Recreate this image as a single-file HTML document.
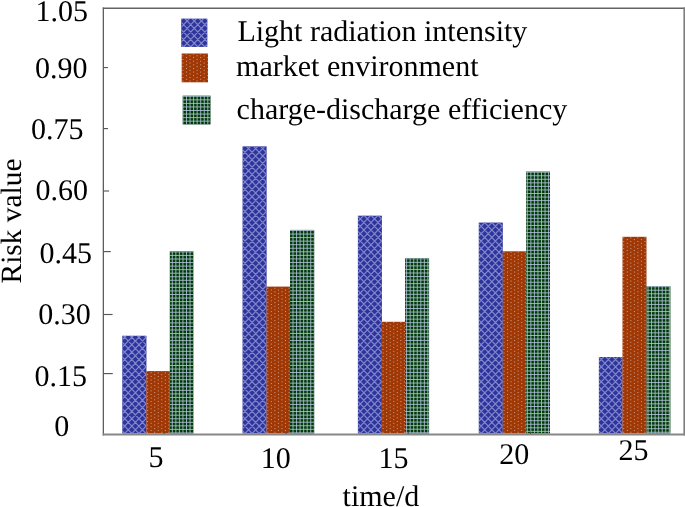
<!DOCTYPE html>
<html><head><meta charset="utf-8"><style>
html,body{margin:0;padding:0;background:#fff;}
svg{display:block;will-change:transform;}
text{font-family:"Liberation Serif", serif;fill:#000;text-rendering:geometricPrecision;}
</style></head><body>
<svg width="685" height="507" viewBox="0 0 685 507">
<defs><clipPath id="c1"><rect x="122.3" y="335.8" width="24.1" height="97.7"/></clipPath><clipPath id="c2"><rect x="146.4" y="371.1" width="23.4" height="62.4"/></clipPath><clipPath id="c3"><rect x="169.8" y="251.3" width="23.6" height="182.2"/></clipPath><clipPath id="c4"><rect x="242.6" y="146.4" width="24" height="287.1"/></clipPath><clipPath id="c5"><rect x="266.6" y="286.6" width="23.4" height="146.9"/></clipPath><clipPath id="c6"><rect x="290" y="229.9" width="24.2" height="203.6"/></clipPath><clipPath id="c7"><rect x="357.9" y="215.7" width="24" height="217.8"/></clipPath><clipPath id="c8"><rect x="381.9" y="321.8" width="23.2" height="111.7"/></clipPath><clipPath id="c9"><rect x="405.1" y="258.2" width="24" height="175.3"/></clipPath><clipPath id="c10"><rect x="478.8" y="222.6" width="24" height="210.9"/></clipPath><clipPath id="c11"><rect x="502.8" y="251.3" width="23.3" height="182.2"/></clipPath><clipPath id="c12"><rect x="526.1" y="171.6" width="23.9" height="261.9"/></clipPath><clipPath id="c13"><rect x="598.9" y="357" width="23.6" height="76.5"/></clipPath><clipPath id="c14"><rect x="622.5" y="236.8" width="24" height="196.7"/></clipPath><clipPath id="c15"><rect x="646.5" y="286.1" width="23.9" height="147.4"/></clipPath><clipPath id="c16"><rect x="181.2" y="18.7" width="26.1" height="28.2"/></clipPath><clipPath id="c17"><rect x="181.7" y="53.5" width="26.3" height="28.8"/></clipPath><clipPath id="c18"><rect x="182.7" y="95.7" width="27.8" height="28.8"/></clipPath></defs>
<g>
<rect x="122.3" y="335.8" width="24.1" height="97.7" fill="#30339b"/>
<path clip-path="url(#c1)" d="M111.94 328.4L4 440.9M-89.74 328.4L18.2 440.9M119.04 328.4L11.1 440.9M-82.64 328.4L25.3 440.9M126.14 328.4L18.2 440.9M-75.54 328.4L32.4 440.9M133.24 328.4L25.3 440.9M-68.44 328.4L39.5 440.9M140.34 328.4L32.4 440.9M-61.34 328.4L46.6 440.9M147.44 328.4L39.5 440.9M-54.24 328.4L53.7 440.9M154.54 328.4L46.6 440.9M-47.14 328.4L60.8 440.9M161.64 328.4L53.7 440.9M-40.04 328.4L67.9 440.9M168.74 328.4L60.8 440.9M-32.94 328.4L75 440.9M175.84 328.4L67.9 440.9M-25.84 328.4L82.1 440.9M182.94 328.4L75 440.9M-18.74 328.4L89.2 440.9M190.04 328.4L82.1 440.9M-11.64 328.4L96.3 440.9M197.14 328.4L89.2 440.9M-4.54 328.4L103.4 440.9M204.24 328.4L96.3 440.9M2.56 328.4L110.5 440.9M211.34 328.4L103.4 440.9M9.66 328.4L117.6 440.9M218.44 328.4L110.5 440.9M16.76 328.4L124.7 440.9M225.54 328.4L117.6 440.9M23.86 328.4L131.8 440.9M232.64 328.4L124.7 440.9M30.96 328.4L138.9 440.9M239.74 328.4L131.8 440.9M38.06 328.4L146 440.9M246.84 328.4L138.9 440.9M45.16 328.4L153.1 440.9M253.94 328.4L146 440.9M52.26 328.4L160.2 440.9M261.04 328.4L153.1 440.9M59.36 328.4L167.3 440.9M268.14 328.4L160.2 440.9M66.46 328.4L174.4 440.9M275.24 328.4L167.3 440.9M73.56 328.4L181.5 440.9M282.34 328.4L174.4 440.9M80.66 328.4L188.6 440.9M289.44 328.4L181.5 440.9M87.76 328.4L195.7 440.9M296.54 328.4L188.6 440.9M94.86 328.4L202.8 440.9M303.64 328.4L195.7 440.9M101.96 328.4L209.9 440.9M310.74 328.4L202.8 440.9M109.06 328.4L217 440.9M317.84 328.4L209.9 440.9M116.16 328.4L224.1 440.9M324.94 328.4L217 440.9M123.26 328.4L231.2 440.9M332.04 328.4L224.1 440.9M130.36 328.4L238.3 440.9M339.14 328.4L231.2 440.9M137.46 328.4L245.4 440.9M346.24 328.4L238.3 440.9M144.56 328.4L252.5 440.9M353.34 328.4L245.4 440.9M151.66 328.4L259.6 440.9M360.44 328.4L252.5 440.9M158.76 328.4L266.7 440.9" stroke="#7e88cc" stroke-width="1.2" fill="none"/>
<rect x="146.4" y="371.1" width="23.4" height="62.4" fill="#a03806"/>
<path clip-path="url(#c2)" d="M147.6 432.7V371.1M151.15 430.9V371.1M154.7 432.7V371.1M158.25 430.9V371.1M161.8 432.7V371.1M165.35 430.9V371.1M168.9 432.7V371.1" stroke="#dcbcae" stroke-width="0.9" stroke-dasharray="0.9 2.7" fill="none"/>
<rect x="169.8" y="251.3" width="23.6" height="182.2" fill="#003a06"/>
<path clip-path="url(#c3)" d="M168.75 251.3V433.5M172.3 251.3V433.5M175.85 251.3V433.5M179.4 251.3V433.5M182.95 251.3V433.5M186.5 251.3V433.5M190.05 251.3V433.5M193.6 251.3V433.5M169.8 251.9H193.4M169.8 255.45H193.4M169.8 259H193.4M169.8 262.55H193.4M169.8 266.1H193.4M169.8 269.65H193.4M169.8 273.2H193.4M169.8 276.75H193.4M169.8 280.3H193.4M169.8 283.85H193.4M169.8 287.4H193.4M169.8 290.95H193.4M169.8 294.5H193.4M169.8 298.05H193.4M169.8 301.6H193.4M169.8 305.15H193.4M169.8 308.7H193.4M169.8 312.25H193.4M169.8 315.8H193.4M169.8 319.35H193.4M169.8 322.9H193.4M169.8 326.45H193.4M169.8 330H193.4M169.8 333.55H193.4M169.8 337.1H193.4M169.8 340.65H193.4M169.8 344.2H193.4M169.8 347.75H193.4M169.8 351.3H193.4M169.8 354.85H193.4M169.8 358.4H193.4M169.8 361.95H193.4M169.8 365.5H193.4M169.8 369.05H193.4M169.8 372.6H193.4M169.8 376.15H193.4M169.8 379.7H193.4M169.8 383.25H193.4M169.8 386.8H193.4M169.8 390.35H193.4M169.8 393.9H193.4M169.8 397.45H193.4M169.8 401H193.4M169.8 404.55H193.4M169.8 408.1H193.4M169.8 411.65H193.4M169.8 415.2H193.4M169.8 418.75H193.4M169.8 422.3H193.4M169.8 425.85H193.4M169.8 429.4H193.4M169.8 432.95H193.4" stroke="#b0c2da" stroke-width="0.85" fill="none"/>
<rect x="242.6" y="146.4" width="24" height="287.1" fill="#30339b"/>
<path clip-path="url(#c4)" d="M236.46 139L-53.2 440.9M-328.66 139L-39 440.9M243.56 139L-46.1 440.9M-321.56 139L-31.9 440.9M250.66 139L-39 440.9M-314.46 139L-24.8 440.9M257.76 139L-31.9 440.9M-307.36 139L-17.7 440.9M264.86 139L-24.8 440.9M-300.26 139L-10.6 440.9M271.96 139L-17.7 440.9M-293.16 139L-3.5 440.9M279.06 139L-10.6 440.9M-286.06 139L3.6 440.9M286.16 139L-3.5 440.9M-278.96 139L10.7 440.9M293.26 139L3.6 440.9M-271.86 139L17.8 440.9M300.36 139L10.7 440.9M-264.76 139L24.9 440.9M307.46 139L17.8 440.9M-257.66 139L32 440.9M314.56 139L24.9 440.9M-250.56 139L39.1 440.9M321.66 139L32 440.9M-243.46 139L46.2 440.9M328.76 139L39.1 440.9M-236.36 139L53.3 440.9M335.86 139L46.2 440.9M-229.26 139L60.4 440.9M342.96 139L53.3 440.9M-222.16 139L67.5 440.9M350.06 139L60.4 440.9M-215.06 139L74.6 440.9M357.16 139L67.5 440.9M-207.96 139L81.7 440.9M364.26 139L74.6 440.9M-200.86 139L88.8 440.9M371.36 139L81.7 440.9M-193.76 139L95.9 440.9M378.46 139L88.8 440.9M-186.66 139L103 440.9M385.56 139L95.9 440.9M-179.56 139L110.1 440.9M392.66 139L103 440.9M-172.46 139L117.2 440.9M399.76 139L110.1 440.9M-165.36 139L124.3 440.9M406.86 139L117.2 440.9M-158.26 139L131.4 440.9M413.96 139L124.3 440.9M-151.16 139L138.5 440.9M421.06 139L131.4 440.9M-144.06 139L145.6 440.9M428.16 139L138.5 440.9M-136.96 139L152.7 440.9M435.26 139L145.6 440.9M-129.86 139L159.8 440.9M442.36 139L152.7 440.9M-122.76 139L166.9 440.9M449.46 139L159.8 440.9M-115.66 139L174 440.9M456.56 139L166.9 440.9M-108.56 139L181.1 440.9M463.66 139L174 440.9M-101.46 139L188.2 440.9M470.76 139L181.1 440.9M-94.36 139L195.3 440.9M477.86 139L188.2 440.9M-87.26 139L202.4 440.9M484.96 139L195.3 440.9M-80.16 139L209.5 440.9M492.06 139L202.4 440.9M-73.06 139L216.6 440.9M499.16 139L209.5 440.9M-65.96 139L223.7 440.9M506.26 139L216.6 440.9M-58.86 139L230.8 440.9M513.36 139L223.7 440.9M-51.76 139L237.9 440.9M520.46 139L230.8 440.9M-44.66 139L245 440.9M527.56 139L237.9 440.9M-37.56 139L252.1 440.9M534.66 139L245 440.9M-30.46 139L259.2 440.9M541.76 139L252.1 440.9M-23.36 139L266.3 440.9M548.86 139L259.2 440.9M-16.26 139L273.4 440.9M555.96 139L266.3 440.9M-9.16 139L280.5 440.9M563.06 139L273.4 440.9M-2.06 139L287.6 440.9M570.16 139L280.5 440.9M5.04 139L294.7 440.9M577.26 139L287.6 440.9M12.14 139L301.8 440.9M584.36 139L294.7 440.9M19.24 139L308.9 440.9M591.46 139L301.8 440.9M26.34 139L316 440.9M598.56 139L308.9 440.9M33.44 139L323.1 440.9M605.66 139L316 440.9M40.54 139L330.2 440.9M612.76 139L323.1 440.9M47.64 139L337.3 440.9M619.86 139L330.2 440.9M54.74 139L344.4 440.9M626.96 139L337.3 440.9M61.84 139L351.5 440.9M634.06 139L344.4 440.9M68.94 139L358.6 440.9M641.16 139L351.5 440.9M76.04 139L365.7 440.9M648.26 139L358.6 440.9M83.14 139L372.8 440.9M655.36 139L365.7 440.9M90.24 139L379.9 440.9M662.46 139L372.8 440.9M97.34 139L387 440.9M669.56 139L379.9 440.9M104.44 139L394.1 440.9M676.66 139L387 440.9M111.54 139L401.2 440.9M683.76 139L394.1 440.9M118.64 139L408.3 440.9M690.86 139L401.2 440.9M125.74 139L415.4 440.9M697.96 139L408.3 440.9M132.84 139L422.5 440.9M705.06 139L415.4 440.9M139.94 139L429.6 440.9M712.16 139L422.5 440.9M147.04 139L436.7 440.9M719.26 139L429.6 440.9M154.14 139L443.8 440.9M726.36 139L436.7 440.9M161.24 139L450.9 440.9M733.46 139L443.8 440.9M168.34 139L458 440.9M740.56 139L450.9 440.9M175.44 139L465.1 440.9M747.66 139L458 440.9M182.54 139L472.2 440.9M754.76 139L465.1 440.9M189.64 139L479.3 440.9M761.86 139L472.2 440.9M196.74 139L486.4 440.9M768.96 139L479.3 440.9M203.84 139L493.5 440.9M776.06 139L486.4 440.9M210.94 139L500.6 440.9M783.16 139L493.5 440.9M218.04 139L507.7 440.9M790.26 139L500.6 440.9M225.14 139L514.8 440.9M797.36 139L507.7 440.9M232.24 139L521.9 440.9M804.46 139L514.8 440.9M239.34 139L529 440.9M811.56 139L521.9 440.9M246.44 139L536.1 440.9M818.66 139L529 440.9M253.54 139L543.2 440.9M825.76 139L536.1 440.9M260.64 139L550.3 440.9M832.86 139L543.2 440.9M267.74 139L557.4 440.9M839.96 139L550.3 440.9M274.84 139L564.5 440.9" stroke="#7e88cc" stroke-width="1.2" fill="none"/>
<rect x="266.6" y="286.6" width="23.4" height="146.9" fill="#a03806"/>
<path clip-path="url(#c5)" d="M267.8 432.7V286.6M271.35 430.9V286.6M274.9 432.7V286.6M278.45 430.9V286.6M282 432.7V286.6M285.55 430.9V286.6M289.1 432.7V286.6" stroke="#dcbcae" stroke-width="0.9" stroke-dasharray="0.9 2.7" fill="none"/>
<rect x="290" y="229.9" width="24.2" height="203.6" fill="#003a06"/>
<path clip-path="url(#c6)" d="M289.45 229.9V433.5M293 229.9V433.5M296.55 229.9V433.5M300.1 229.9V433.5M303.65 229.9V433.5M307.2 229.9V433.5M310.75 229.9V433.5M314.3 229.9V433.5M290 230.5H314.2M290 234.05H314.2M290 237.6H314.2M290 241.15H314.2M290 244.7H314.2M290 248.25H314.2M290 251.8H314.2M290 255.35H314.2M290 258.9H314.2M290 262.45H314.2M290 266H314.2M290 269.55H314.2M290 273.1H314.2M290 276.65H314.2M290 280.2H314.2M290 283.75H314.2M290 287.3H314.2M290 290.85H314.2M290 294.4H314.2M290 297.95H314.2M290 301.5H314.2M290 305.05H314.2M290 308.6H314.2M290 312.15H314.2M290 315.7H314.2M290 319.25H314.2M290 322.8H314.2M290 326.35H314.2M290 329.9H314.2M290 333.45H314.2M290 337H314.2M290 340.55H314.2M290 344.1H314.2M290 347.65H314.2M290 351.2H314.2M290 354.75H314.2M290 358.3H314.2M290 361.85H314.2M290 365.4H314.2M290 368.95H314.2M290 372.5H314.2M290 376.05H314.2M290 379.6H314.2M290 383.15H314.2M290 386.7H314.2M290 390.25H314.2M290 393.8H314.2M290 397.35H314.2M290 400.9H314.2M290 404.45H314.2M290 408H314.2M290 411.55H314.2M290 415.1H314.2M290 418.65H314.2M290 422.2H314.2M290 425.75H314.2M290 429.3H314.2M290 432.85H314.2" stroke="#b0c2da" stroke-width="0.85" fill="none"/>
<rect x="357.9" y="215.7" width="24" height="217.8" fill="#30339b"/>
<path clip-path="url(#c7)" d="M349.17 208.3L126 440.9M-82.97 208.3L140.2 440.9M356.27 208.3L133.1 440.9M-75.87 208.3L147.3 440.9M363.37 208.3L140.2 440.9M-68.77 208.3L154.4 440.9M370.47 208.3L147.3 440.9M-61.67 208.3L161.5 440.9M377.57 208.3L154.4 440.9M-54.57 208.3L168.6 440.9M384.67 208.3L161.5 440.9M-47.47 208.3L175.7 440.9M391.77 208.3L168.6 440.9M-40.37 208.3L182.8 440.9M398.87 208.3L175.7 440.9M-33.27 208.3L189.9 440.9M405.97 208.3L182.8 440.9M-26.17 208.3L197 440.9M413.07 208.3L189.9 440.9M-19.07 208.3L204.1 440.9M420.17 208.3L197 440.9M-11.97 208.3L211.2 440.9M427.27 208.3L204.1 440.9M-4.87 208.3L218.3 440.9M434.37 208.3L211.2 440.9M2.23 208.3L225.4 440.9M441.47 208.3L218.3 440.9M9.33 208.3L232.5 440.9M448.57 208.3L225.4 440.9M16.43 208.3L239.6 440.9M455.67 208.3L232.5 440.9M23.53 208.3L246.7 440.9M462.77 208.3L239.6 440.9M30.63 208.3L253.8 440.9M469.87 208.3L246.7 440.9M37.73 208.3L260.9 440.9M476.97 208.3L253.8 440.9M44.83 208.3L268 440.9M484.07 208.3L260.9 440.9M51.93 208.3L275.1 440.9M491.17 208.3L268 440.9M59.03 208.3L282.2 440.9M498.27 208.3L275.1 440.9M66.13 208.3L289.3 440.9M505.37 208.3L282.2 440.9M73.23 208.3L296.4 440.9M512.47 208.3L289.3 440.9M80.33 208.3L303.5 440.9M519.57 208.3L296.4 440.9M87.43 208.3L310.6 440.9M526.67 208.3L303.5 440.9M94.53 208.3L317.7 440.9M533.77 208.3L310.6 440.9M101.63 208.3L324.8 440.9M540.87 208.3L317.7 440.9M108.73 208.3L331.9 440.9M547.97 208.3L324.8 440.9M115.83 208.3L339 440.9M555.07 208.3L331.9 440.9M122.93 208.3L346.1 440.9M562.17 208.3L339 440.9M130.03 208.3L353.2 440.9M569.27 208.3L346.1 440.9M137.13 208.3L360.3 440.9M576.37 208.3L353.2 440.9M144.23 208.3L367.4 440.9M583.47 208.3L360.3 440.9M151.33 208.3L374.5 440.9M590.57 208.3L367.4 440.9M158.43 208.3L381.6 440.9M597.67 208.3L374.5 440.9M165.53 208.3L388.7 440.9M604.77 208.3L381.6 440.9M172.63 208.3L395.8 440.9M611.87 208.3L388.7 440.9M179.73 208.3L402.9 440.9M618.97 208.3L395.8 440.9M186.83 208.3L410 440.9M626.07 208.3L402.9 440.9M193.93 208.3L417.1 440.9M633.17 208.3L410 440.9M201.03 208.3L424.2 440.9M640.27 208.3L417.1 440.9M208.13 208.3L431.3 440.9M647.37 208.3L424.2 440.9M215.23 208.3L438.4 440.9M654.47 208.3L431.3 440.9M222.33 208.3L445.5 440.9M661.57 208.3L438.4 440.9M229.43 208.3L452.6 440.9M668.67 208.3L445.5 440.9M236.53 208.3L459.7 440.9M675.77 208.3L452.6 440.9M243.63 208.3L466.8 440.9M682.87 208.3L459.7 440.9M250.73 208.3L473.9 440.9M689.97 208.3L466.8 440.9M257.83 208.3L481 440.9M697.07 208.3L473.9 440.9M264.93 208.3L488.1 440.9M704.17 208.3L481 440.9M272.03 208.3L495.2 440.9M711.27 208.3L488.1 440.9M279.13 208.3L502.3 440.9M718.37 208.3L495.2 440.9M286.23 208.3L509.4 440.9M725.47 208.3L502.3 440.9M293.33 208.3L516.5 440.9M732.57 208.3L509.4 440.9M300.43 208.3L523.6 440.9M739.67 208.3L516.5 440.9M307.53 208.3L530.7 440.9M746.77 208.3L523.6 440.9M314.63 208.3L537.8 440.9M753.87 208.3L530.7 440.9M321.73 208.3L544.9 440.9M760.97 208.3L537.8 440.9M328.83 208.3L552 440.9M768.07 208.3L544.9 440.9M335.93 208.3L559.1 440.9M775.17 208.3L552 440.9M343.03 208.3L566.2 440.9M782.27 208.3L559.1 440.9M350.13 208.3L573.3 440.9M789.37 208.3L566.2 440.9M357.23 208.3L580.4 440.9M796.47 208.3L573.3 440.9M364.33 208.3L587.5 440.9M803.57 208.3L580.4 440.9M371.43 208.3L594.6 440.9M810.67 208.3L587.5 440.9M378.53 208.3L601.7 440.9M817.77 208.3L594.6 440.9M385.63 208.3L608.8 440.9M824.87 208.3L601.7 440.9M392.73 208.3L615.9 440.9" stroke="#7e88cc" stroke-width="1.2" fill="none"/>
<rect x="381.9" y="321.8" width="23.2" height="111.7" fill="#a03806"/>
<path clip-path="url(#c8)" d="M383.1 432.7V321.8M386.65 430.9V321.8M390.2 432.7V321.8M393.75 430.9V321.8M397.3 432.7V321.8M400.85 430.9V321.8M404.4 432.7V321.8" stroke="#dcbcae" stroke-width="0.9" stroke-dasharray="0.9 2.7" fill="none"/>
<rect x="405.1" y="258.2" width="24" height="175.3" fill="#003a06"/>
<path clip-path="url(#c9)" d="M403.05 258.2V433.5M406.6 258.2V433.5M410.15 258.2V433.5M413.7 258.2V433.5M417.25 258.2V433.5M420.8 258.2V433.5M424.35 258.2V433.5M427.9 258.2V433.5M405.1 258.8H429.1M405.1 262.35H429.1M405.1 265.9H429.1M405.1 269.45H429.1M405.1 273H429.1M405.1 276.55H429.1M405.1 280.1H429.1M405.1 283.65H429.1M405.1 287.2H429.1M405.1 290.75H429.1M405.1 294.3H429.1M405.1 297.85H429.1M405.1 301.4H429.1M405.1 304.95H429.1M405.1 308.5H429.1M405.1 312.05H429.1M405.1 315.6H429.1M405.1 319.15H429.1M405.1 322.7H429.1M405.1 326.25H429.1M405.1 329.8H429.1M405.1 333.35H429.1M405.1 336.9H429.1M405.1 340.45H429.1M405.1 344H429.1M405.1 347.55H429.1M405.1 351.1H429.1M405.1 354.65H429.1M405.1 358.2H429.1M405.1 361.75H429.1M405.1 365.3H429.1M405.1 368.85H429.1M405.1 372.4H429.1M405.1 375.95H429.1M405.1 379.5H429.1M405.1 383.05H429.1M405.1 386.6H429.1M405.1 390.15H429.1M405.1 393.7H429.1M405.1 397.25H429.1M405.1 400.8H429.1M405.1 404.35H429.1M405.1 407.9H429.1M405.1 411.45H429.1M405.1 415H429.1M405.1 418.55H429.1M405.1 422.1H429.1M405.1 425.65H429.1M405.1 429.2H429.1M405.1 432.75H429.1" stroke="#b0c2da" stroke-width="0.85" fill="none"/>
<rect x="478.8" y="222.6" width="24" height="210.9" fill="#30339b"/>
<path clip-path="url(#c10)" d="M470.55 215.2L254 440.9M51.65 215.2L268.2 440.9M477.65 215.2L261.1 440.9M58.75 215.2L275.3 440.9M484.75 215.2L268.2 440.9M65.85 215.2L282.4 440.9M491.85 215.2L275.3 440.9M72.95 215.2L289.5 440.9M498.95 215.2L282.4 440.9M80.05 215.2L296.6 440.9M506.05 215.2L289.5 440.9M87.15 215.2L303.7 440.9M513.15 215.2L296.6 440.9M94.25 215.2L310.8 440.9M520.25 215.2L303.7 440.9M101.35 215.2L317.9 440.9M527.35 215.2L310.8 440.9M108.45 215.2L325 440.9M534.45 215.2L317.9 440.9M115.55 215.2L332.1 440.9M541.55 215.2L325 440.9M122.65 215.2L339.2 440.9M548.65 215.2L332.1 440.9M129.75 215.2L346.3 440.9M555.75 215.2L339.2 440.9M136.85 215.2L353.4 440.9M562.85 215.2L346.3 440.9M143.95 215.2L360.5 440.9M569.95 215.2L353.4 440.9M151.05 215.2L367.6 440.9M577.05 215.2L360.5 440.9M158.15 215.2L374.7 440.9M584.15 215.2L367.6 440.9M165.25 215.2L381.8 440.9M591.25 215.2L374.7 440.9M172.35 215.2L388.9 440.9M598.35 215.2L381.8 440.9M179.45 215.2L396 440.9M605.45 215.2L388.9 440.9M186.55 215.2L403.1 440.9M612.55 215.2L396 440.9M193.65 215.2L410.2 440.9M619.65 215.2L403.1 440.9M200.75 215.2L417.3 440.9M626.75 215.2L410.2 440.9M207.85 215.2L424.4 440.9M633.85 215.2L417.3 440.9M214.95 215.2L431.5 440.9M640.95 215.2L424.4 440.9M222.05 215.2L438.6 440.9M648.05 215.2L431.5 440.9M229.15 215.2L445.7 440.9M655.15 215.2L438.6 440.9M236.25 215.2L452.8 440.9M662.25 215.2L445.7 440.9M243.35 215.2L459.9 440.9M669.35 215.2L452.8 440.9M250.45 215.2L467 440.9M676.45 215.2L459.9 440.9M257.55 215.2L474.1 440.9M683.55 215.2L467 440.9M264.65 215.2L481.2 440.9M690.65 215.2L474.1 440.9M271.75 215.2L488.3 440.9M697.75 215.2L481.2 440.9M278.85 215.2L495.4 440.9M704.85 215.2L488.3 440.9M285.95 215.2L502.5 440.9M711.95 215.2L495.4 440.9M293.05 215.2L509.6 440.9M719.05 215.2L502.5 440.9M300.15 215.2L516.7 440.9M726.15 215.2L509.6 440.9M307.25 215.2L523.8 440.9M733.25 215.2L516.7 440.9M314.35 215.2L530.9 440.9M740.35 215.2L523.8 440.9M321.45 215.2L538 440.9M747.45 215.2L530.9 440.9M328.55 215.2L545.1 440.9M754.55 215.2L538 440.9M335.65 215.2L552.2 440.9M761.65 215.2L545.1 440.9M342.75 215.2L559.3 440.9M768.75 215.2L552.2 440.9M349.85 215.2L566.4 440.9M775.85 215.2L559.3 440.9M356.95 215.2L573.5 440.9M782.95 215.2L566.4 440.9M364.05 215.2L580.6 440.9M790.05 215.2L573.5 440.9M371.15 215.2L587.7 440.9M797.15 215.2L580.6 440.9M378.25 215.2L594.8 440.9M804.25 215.2L587.7 440.9M385.35 215.2L601.9 440.9M811.35 215.2L594.8 440.9M392.45 215.2L609 440.9M818.45 215.2L601.9 440.9M399.55 215.2L616.1 440.9M825.55 215.2L609 440.9M406.65 215.2L623.2 440.9M832.65 215.2L616.1 440.9M413.75 215.2L630.3 440.9M839.75 215.2L623.2 440.9M420.85 215.2L637.4 440.9M846.85 215.2L630.3 440.9M427.95 215.2L644.5 440.9M853.95 215.2L637.4 440.9M435.05 215.2L651.6 440.9M861.05 215.2L644.5 440.9M442.15 215.2L658.7 440.9M868.15 215.2L651.6 440.9M449.25 215.2L665.8 440.9M875.25 215.2L658.7 440.9M456.35 215.2L672.9 440.9M882.35 215.2L665.8 440.9M463.45 215.2L680 440.9M889.45 215.2L672.9 440.9M470.55 215.2L687.1 440.9M896.55 215.2L680 440.9M477.65 215.2L694.2 440.9M903.65 215.2L687.1 440.9M484.75 215.2L701.3 440.9M910.75 215.2L694.2 440.9M491.85 215.2L708.4 440.9M917.85 215.2L701.3 440.9M498.95 215.2L715.5 440.9M924.95 215.2L708.4 440.9M506.05 215.2L722.6 440.9M932.05 215.2L715.5 440.9M513.15 215.2L729.7 440.9" stroke="#7e88cc" stroke-width="1.2" fill="none"/>
<rect x="502.8" y="251.3" width="23.3" height="182.2" fill="#a03806"/>
<path clip-path="url(#c11)" d="M504 432.7V251.3M507.55 430.9V251.3M511.1 432.7V251.3M514.65 430.9V251.3M518.2 432.7V251.3M521.75 430.9V251.3M525.3 432.7V251.3" stroke="#dcbcae" stroke-width="0.9" stroke-dasharray="0.9 2.7" fill="none"/>
<rect x="526.1" y="171.6" width="23.9" height="261.9" fill="#003a06"/>
<path clip-path="url(#c12)" d="M523.75 171.6V433.5M527.3 171.6V433.5M530.85 171.6V433.5M534.4 171.6V433.5M537.95 171.6V433.5M541.5 171.6V433.5M545.05 171.6V433.5M548.6 171.6V433.5M526.1 172.2H550M526.1 175.75H550M526.1 179.3H550M526.1 182.85H550M526.1 186.4H550M526.1 189.95H550M526.1 193.5H550M526.1 197.05H550M526.1 200.6H550M526.1 204.15H550M526.1 207.7H550M526.1 211.25H550M526.1 214.8H550M526.1 218.35H550M526.1 221.9H550M526.1 225.45H550M526.1 229H550M526.1 232.55H550M526.1 236.1H550M526.1 239.65H550M526.1 243.2H550M526.1 246.75H550M526.1 250.3H550M526.1 253.85H550M526.1 257.4H550M526.1 260.95H550M526.1 264.5H550M526.1 268.05H550M526.1 271.6H550M526.1 275.15H550M526.1 278.7H550M526.1 282.25H550M526.1 285.8H550M526.1 289.35H550M526.1 292.9H550M526.1 296.45H550M526.1 300H550M526.1 303.55H550M526.1 307.1H550M526.1 310.65H550M526.1 314.2H550M526.1 317.75H550M526.1 321.3H550M526.1 324.85H550M526.1 328.4H550M526.1 331.95H550M526.1 335.5H550M526.1 339.05H550M526.1 342.6H550M526.1 346.15H550M526.1 349.7H550M526.1 353.25H550M526.1 356.8H550M526.1 360.35H550M526.1 363.9H550M526.1 367.45H550M526.1 371H550M526.1 374.55H550M526.1 378.1H550M526.1 381.65H550M526.1 385.2H550M526.1 388.75H550M526.1 392.3H550M526.1 395.85H550M526.1 399.4H550M526.1 402.95H550M526.1 406.5H550M526.1 410.05H550M526.1 413.6H550M526.1 417.15H550M526.1 420.7H550M526.1 424.25H550M526.1 427.8H550M526.1 431.35H550" stroke="#b0c2da" stroke-width="0.85" fill="none"/>
<rect x="598.9" y="357" width="23.6" height="76.5" fill="#30339b"/>
<path clip-path="url(#c13)" d="M589.5 349.6L501.9 440.9M428.5 349.6L516.1 440.9M596.6 349.6L509 440.9M435.6 349.6L523.2 440.9M603.7 349.6L516.1 440.9M442.7 349.6L530.3 440.9M610.8 349.6L523.2 440.9M449.8 349.6L537.4 440.9M617.9 349.6L530.3 440.9M456.9 349.6L544.5 440.9M625 349.6L537.4 440.9M464 349.6L551.6 440.9M632.1 349.6L544.5 440.9M471.1 349.6L558.7 440.9M639.2 349.6L551.6 440.9M478.2 349.6L565.8 440.9M646.3 349.6L558.7 440.9M485.3 349.6L572.9 440.9M653.4 349.6L565.8 440.9M492.4 349.6L580 440.9M660.5 349.6L572.9 440.9M499.5 349.6L587.1 440.9M667.6 349.6L580 440.9M506.6 349.6L594.2 440.9M674.7 349.6L587.1 440.9M513.7 349.6L601.3 440.9M681.8 349.6L594.2 440.9M520.8 349.6L608.4 440.9M688.9 349.6L601.3 440.9M527.9 349.6L615.5 440.9M696 349.6L608.4 440.9M535 349.6L622.6 440.9M703.1 349.6L615.5 440.9M542.1 349.6L629.7 440.9M710.2 349.6L622.6 440.9M549.2 349.6L636.8 440.9M717.3 349.6L629.7 440.9M556.3 349.6L643.9 440.9M724.4 349.6L636.8 440.9M563.4 349.6L651 440.9M731.5 349.6L643.9 440.9M570.5 349.6L658.1 440.9M738.6 349.6L651 440.9M577.6 349.6L665.2 440.9M745.7 349.6L658.1 440.9M584.7 349.6L672.3 440.9M752.8 349.6L665.2 440.9M591.8 349.6L679.4 440.9M759.9 349.6L672.3 440.9M598.9 349.6L686.5 440.9M767 349.6L679.4 440.9M606 349.6L693.6 440.9M774.1 349.6L686.5 440.9M613.1 349.6L700.7 440.9M781.2 349.6L693.6 440.9M620.2 349.6L707.8 440.9M788.3 349.6L700.7 440.9M627.3 349.6L714.9 440.9M795.4 349.6L707.8 440.9M634.4 349.6L722 440.9" stroke="#7e88cc" stroke-width="1.2" fill="none"/>
<rect x="622.5" y="236.8" width="24" height="196.7" fill="#a03806"/>
<path clip-path="url(#c14)" d="M623.7 432.7V236.8M627.25 430.9V236.8M630.8 432.7V236.8M634.35 430.9V236.8M637.9 432.7V236.8M641.45 430.9V236.8M645 432.7V236.8" stroke="#dcbcae" stroke-width="0.9" stroke-dasharray="0.9 2.7" fill="none"/>
<rect x="646.5" y="286.1" width="23.9" height="147.4" fill="#003a06"/>
<path clip-path="url(#c15)" d="M644.45 286.1V433.5M648 286.1V433.5M651.55 286.1V433.5M655.1 286.1V433.5M658.65 286.1V433.5M662.2 286.1V433.5M665.75 286.1V433.5M669.3 286.1V433.5M646.5 286.7H670.4M646.5 290.25H670.4M646.5 293.8H670.4M646.5 297.35H670.4M646.5 300.9H670.4M646.5 304.45H670.4M646.5 308H670.4M646.5 311.55H670.4M646.5 315.1H670.4M646.5 318.65H670.4M646.5 322.2H670.4M646.5 325.75H670.4M646.5 329.3H670.4M646.5 332.85H670.4M646.5 336.4H670.4M646.5 339.95H670.4M646.5 343.5H670.4M646.5 347.05H670.4M646.5 350.6H670.4M646.5 354.15H670.4M646.5 357.7H670.4M646.5 361.25H670.4M646.5 364.8H670.4M646.5 368.35H670.4M646.5 371.9H670.4M646.5 375.45H670.4M646.5 379H670.4M646.5 382.55H670.4M646.5 386.1H670.4M646.5 389.65H670.4M646.5 393.2H670.4M646.5 396.75H670.4M646.5 400.3H670.4M646.5 403.85H670.4M646.5 407.4H670.4M646.5 410.95H670.4M646.5 414.5H670.4M646.5 418.05H670.4M646.5 421.6H670.4M646.5 425.15H670.4M646.5 428.7H670.4M646.5 432.25H670.4" stroke="#b0c2da" stroke-width="0.85" fill="none"/>
<rect x="181.2" y="18.7" width="26.1" height="28.2" fill="#30339b"/>
<path clip-path="url(#c16)" d="M175.16 11.3L133.9 54.3M106.84 11.3L148.1 54.3M182.26 11.3L141 54.3M113.94 11.3L155.2 54.3M189.36 11.3L148.1 54.3M121.04 11.3L162.3 54.3M196.46 11.3L155.2 54.3M128.14 11.3L169.4 54.3M203.56 11.3L162.3 54.3M135.24 11.3L176.5 54.3M210.66 11.3L169.4 54.3M142.34 11.3L183.6 54.3M217.76 11.3L176.5 54.3M149.44 11.3L190.7 54.3M224.86 11.3L183.6 54.3M156.54 11.3L197.8 54.3M231.96 11.3L190.7 54.3M163.64 11.3L204.9 54.3M239.06 11.3L197.8 54.3M170.74 11.3L212 54.3M246.16 11.3L204.9 54.3M177.84 11.3L219.1 54.3M253.26 11.3L212 54.3M184.94 11.3L226.2 54.3M260.36 11.3L219.1 54.3M192.04 11.3L233.3 54.3M267.46 11.3L226.2 54.3M199.14 11.3L240.4 54.3M274.56 11.3L233.3 54.3M206.24 11.3L247.5 54.3M281.66 11.3L240.4 54.3M213.34 11.3L254.6 54.3" stroke="#7e88cc" stroke-width="1.2" fill="none"/>
<rect x="181.7" y="53.5" width="26.3" height="28.8" fill="#a03806"/>
<path clip-path="url(#c17)" d="M182.9 81.5V53.5M186.45 79.7V53.5M190 81.5V53.5M193.55 79.7V53.5M197.1 81.5V53.5M200.65 79.7V53.5M204.2 81.5V53.5M207.75 79.7V53.5" stroke="#dcbcae" stroke-width="0.9" stroke-dasharray="0.9 2.7" fill="none"/>
<rect x="182.7" y="95.7" width="27.8" height="28.8" fill="#003a06"/>
<path clip-path="url(#c18)" d="M179.4 95.7V124.5M182.95 95.7V124.5M186.5 95.7V124.5M190.05 95.7V124.5M193.6 95.7V124.5M197.15 95.7V124.5M200.7 95.7V124.5M204.25 95.7V124.5M207.8 95.7V124.5M182.7 96.3H210.5M182.7 99.85H210.5M182.7 103.4H210.5M182.7 106.95H210.5M182.7 110.5H210.5M182.7 114.05H210.5M182.7 117.6H210.5M182.7 121.15H210.5M182.7 124.7H210.5" stroke="#b0c2da" stroke-width="0.85" fill="none"/>
</g>
<line x1="103.35" y1="7.6" x2="103.35" y2="435.6" stroke="#5f5f5f" stroke-width="1.3"/>
<line x1="102.7" y1="8.33" x2="685" y2="8.33" stroke="#646464" stroke-width="1.55"/>
<line x1="684.2" y1="7.6" x2="684.2" y2="435.6" stroke="#7d7d7d" stroke-width="1.6"/>
<line x1="102.7" y1="434.62" x2="685" y2="434.62" stroke="#878787" stroke-width="2"/>
<line x1="103.5" y1="67.55" x2="107.9" y2="67.55" stroke="#585858" stroke-width="1.15"/>
<line x1="103.5" y1="128.6" x2="108.0" y2="128.6" stroke="#585858" stroke-width="1.15"/>
<line x1="103.5" y1="191.0" x2="109.1" y2="191.0" stroke="#585858" stroke-width="1.15"/>
<line x1="103.5" y1="251.6" x2="110.8" y2="251.6" stroke="#585858" stroke-width="1.15"/>
<line x1="103.5" y1="314.5" x2="112.6" y2="314.5" stroke="#585858" stroke-width="1.15"/>
<line x1="103.5" y1="373.6" x2="112.8" y2="373.6" stroke="#585858" stroke-width="1.15"/>
<line x1="164.1" y1="431.6" x2="164.1" y2="434" stroke="#505050" stroke-width="1"/>
<line x1="286.1" y1="431.6" x2="286.1" y2="434" stroke="#505050" stroke-width="1"/>
<line x1="408.2" y1="431.6" x2="408.2" y2="434" stroke="#505050" stroke-width="1"/>
<line x1="530.5" y1="431.6" x2="530.5" y2="434" stroke="#505050" stroke-width="1"/>
<text x="35.40" y="20.50" font-size="30" text-anchor="start" >1.05</text>
<text x="35.10" y="77.60" font-size="30" text-anchor="start" >0.90</text>
<text x="31.00" y="138.50" font-size="30" text-anchor="start" >0.75</text>
<text x="35.40" y="199.70" font-size="30" text-anchor="start" >0.60</text>
<text x="39.40" y="263.00" font-size="30" text-anchor="start" >0.45</text>
<text x="38.30" y="324.20" font-size="30" text-anchor="start" >0.30</text>
<text x="34.60" y="385.70" font-size="30" text-anchor="start" >0.15</text>
<text x="54.30" y="435.50" font-size="30" text-anchor="start" >0</text>
<text x="148.50" y="467.00" font-size="30" text-anchor="start" >5</text>
<text x="260.65" y="467.60" font-size="30" text-anchor="start" >10</text>
<text x="378.55" y="467.60" font-size="30" text-anchor="start" >15</text>
<text x="499.20" y="464.10" font-size="30" text-anchor="start" >20</text>
<text x="618.50" y="459.60" font-size="30" text-anchor="start" >25</text>
<text x="342.60" y="505.60" font-size="30" text-anchor="start" >time/d</text>
<text transform="translate(21.2,283.4) rotate(-90)" x="0" y="0" font-size="29.4">Risk value</text>
<text x="237.40" y="40.80" font-size="30" text-anchor="start" >Light radiation intensity</text>
<text x="236.10" y="76.20" font-size="30" text-anchor="start" >market environment</text>
<text x="236.60" y="118.60" font-size="30" text-anchor="start" >charge-discharge efficiency</text>
</svg>
</body></html>
